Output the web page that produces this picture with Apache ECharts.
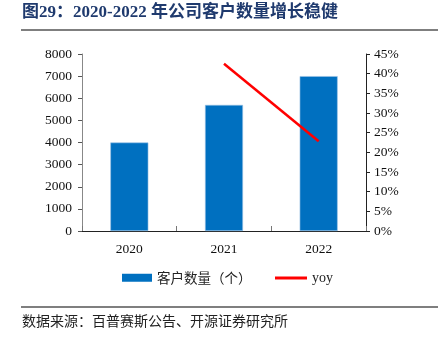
<!DOCTYPE html>
<html>
<head>
<meta charset="utf-8">
<script src="https://cdn.jsdelivr.net/npm/echarts@6/dist/echarts.min.js"></script>
<style>
  html, body { margin: 0; padding: 0; background: #fff; }
  #chart { width: 438px; height: 343px; }
</style>
</head>
<body>
<div id="chart"></div>
<script>
// Customer count per year and year-on-year growth (%)
const years = ['2020', '2021', '2022'];
const customers = [4000, 5700, 7000];
const yoy = [null, 42.5, 22.8];
const leftTicks = { min: 0, max: 8000, step: 1000 };
const rightTicks = { min: 0, max: 45, step: 5 };

const titleText = '图29：2020-2022 年公司客户数量增长稳健';
const sourceText = '数据来源：百普赛斯公告、开源证券研究所';
const barName = '客户数量（个）';
const lineName = 'yoy';

const serif = '"Liberation Serif", "Times New Roman", serif';
const cjk = '"Noto Sans CJK SC", sans-serif';

const chart = echarts.init(document.getElementById('chart'), null, { renderer: 'canvas' });

chart.setOption({
  animation: false,
  backgroundColor: '#ffffff',
  grid: { left: 82, right: 72, top: 54, bottom: 112, containLabel: false },
  graphic: [
    {
      type: 'text', left: 22, top: 4,
      style: { text: titleText, fill: '#1f3a6e', font: 'bold 17px ' + '"Liberation Serif", "Noto Sans CJK SC", serif' }
    },
    {
      type: 'line', shape: { x1: 21, y1: 30, x2: 438, y2: 30 },
      style: { stroke: '#555', lineWidth: 1.5 }
    },
    {
      type: 'line', shape: { x1: 21, y1: 307, x2: 438, y2: 307 },
      style: { stroke: '#555', lineWidth: 1.5 }
    },
    {
      type: 'text', left: 22, top: 314,
      style: { text: sourceText, fill: '#222', font: '14px ' + cjk }
    }
  ],
  legend: [
    {
      data: [barName], left: 122, top: 271, padding: 0, itemWidth: 30, itemHeight: 8, itemGap: 5,
      icon: 'rect',
      itemStyle: { borderWidth: 0 },
      textStyle: { fontFamily: cjk, fontSize: 13.5, color: '#222' }
    },
    {
      data: [lineName], left: 275, top: 271, padding: 0, itemWidth: 32, itemHeight: 3, itemGap: 3,
      icon: 'rect',
      textStyle: { fontFamily: serif, fontSize: 14, color: '#222' }
    }
  ],
  xAxis: {
    type: 'category',
    data: years,
    axisLine: { lineStyle: { color: '#222', width: 1 } },
    axisTick: { show: true, inside: true, length: 5, alignWithLabel: false, lineStyle: { color: '#777' } },
    axisLabel: { fontFamily: serif, fontSize: 13.5, color: '#111', margin: 11 }
  },
  yAxis: [
    {
      type: 'value', min: leftTicks.min, max: leftTicks.max, interval: leftTicks.step,
      axisLine: { show: true, lineStyle: { color: '#888', width: 1 } },
      axisTick: { show: true, length: 4, lineStyle: { color: '#555' } },
      splitLine: { show: false },
      axisLabel: { fontFamily: serif, fontSize: 13.5, color: '#111', margin: 10, formatter: v => String(v) }
    },
    {
      type: 'value', min: rightTicks.min, max: rightTicks.max, interval: rightTicks.step,
      position: 'right',
      axisLine: { show: true, lineStyle: { color: '#222', width: 1 } },
      axisTick: { show: true, length: 4, lineStyle: { color: '#222' } },
      splitLine: { show: false },
      axisLabel: { fontFamily: serif, fontSize: 13.5, color: '#111', margin: 8, formatter: '{value}%' }
    }
  ],
  series: [
    {
      name: barName, type: 'bar', data: customers, barWidth: 38,
      itemStyle: { color: '#0070C0', borderColor: '#9cc3e6', borderWidth: 0.6 }
    },
    {
      name: lineName, type: 'line', yAxisIndex: 1, data: yoy,
      symbol: 'none', itemStyle: { color: '#FF0000' },
      lineStyle: { color: '#FF0000', width: 2.5 }
    }
  ]
});
</script>
</body>
</html>
